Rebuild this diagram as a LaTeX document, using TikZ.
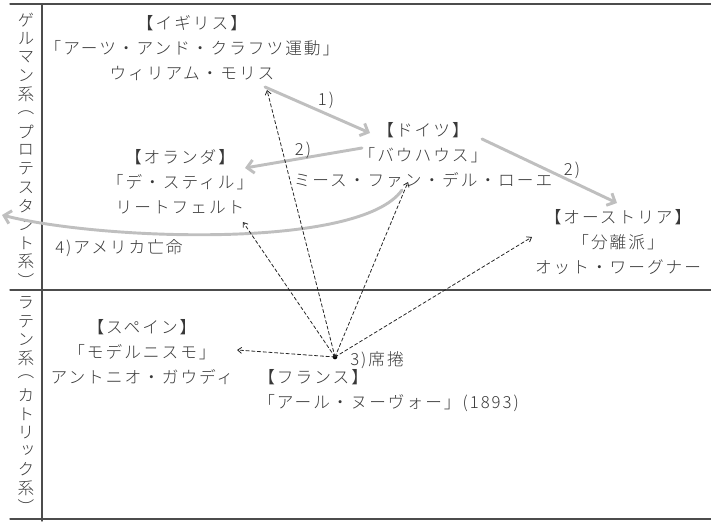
\documentclass[tikz,border=0pt]{standalone}
\usepackage{fontspec}
\IfFontExistsTF{Noto Sans CJK JP Light}
  {\newfontfamily\jp[LetterSpace=12]{Noto Sans CJK JP Light}
   \newfontfamily\jpv[RawFeature=+vert]{Noto Sans CJK JP Light}}
  {\newfontfamily\jp[LetterSpace=12]{Noto Sans CJK JP}
   \newfontfamily\jpv[RawFeature=+vert]{Noto Sans CJK JP}}
\usetikzlibrary{arrows.meta}
\begin{document}
\begin{tikzpicture}[x=0.75pt,y=-0.75pt,line cap=round,line join=round,
  txt/.style={text=black!78,font=\jp\fontsize{12.5}{18.75}\selectfont,inner sep=0pt},
  vtxt/.style={text=black!78,font=\jpv\fontsize{12.5}{14}\selectfont,inner sep=0pt},
  block/.style={txt,align=center},
  move/.style={draw=black!25,line width=2.2pt,-{Straight Barb[length=5pt,width=10pt]}},
  spread/.style={draw=black!85,line width=0.6pt,dash pattern=on 2.5pt off 1.8pt,-{Straight Barb[length=3pt,width=4.5pt]}},
  frame/.style={draw=black!70,line width=1pt}]
  \useasboundingbox (0,0) rectangle (711,522);
  % frame
  \draw[frame] (10,4) -- (711,4);
  \draw[frame] (10,290) -- (711,290);
  \draw[frame] (10,519) -- (711,519);
  \draw[frame] (42,4) -- (42,521);
  % vertical headings
  \foreach \c [count=\i from 0] in {ゲ,ル,マ,ン,系,︵,プ,ロ,テ,ス,タ,ン,ト,系,︶}
    \node[vtxt] (g\i) at (26,{20+18.6*\i}) {\c};
  \foreach \c [count=\i from 0] in {ラ,テ,ン,系,︵,カ,ト,リ,ッ,ク,系,︶}
    \node[vtxt] (r\i) at (26,{303+18.5*\i}) {\c};
  % countries
  \node[block] (uk) at (192,48) {【イギリス】\\「アーツ・アンド・クラフツ運動」\\ウィリアム・モリス};
  \node[block] (de) at (423,155) {【ドイツ】\\「バウハウス」\\ミース・ファン・デル・ローエ};
  \node[block] (nl) at (180,182) {【オランダ】\\「デ・スティル」\\リートフェルト};
  \node[block] (at) at (618,242) {【オーストリア】\\「分離派」\\オット・ワーグナー};
  \node[block] (es) at (142,352) {【スペイン】\\「モデルニスモ」\\アントニオ・ガウディ};
  \node[txt,align=left,anchor=west] (fr) at (258,391) {【フランス】\\「アール・ヌーヴォー」(1893)};
  \node[circle,fill=black,inner sep=0pt,minimum size=3.5pt] (src) at (335,357) {};
  \coordinate (us) at (2,215);
  % influence
  \draw[move] ([shift={(73,39)}]uk.center) -- ([shift={(-53,-22)}]de.center);
  \draw[move] ([shift={(-61,-7)}]de.center) -- ([shift={(65,-14)}]nl.center);
  \draw[move] ([shift={(59,-16)}]de.center) -- ([shift={(-1,-39)}]at.center);
  \draw[move] ([shift={(-21,35)}]de.center) .. controls (360,250) and (100,240) .. (us);
  \node[txt] (l1) at (326,100) {1)};
  \node[txt] (l2a) at (303,150) {2)};
  \node[txt] (l2b) at (572,170) {2)};
  \node[txt,anchor=west] (l4) at (55,248) {4)アメリカ亡命};
  \node[txt,anchor=west] (l3) at (350,360) {3)席捲};
  % spread of art nouveau
  \draw[spread] (src.center) -- ([shift={(75,42)}]uk.center);
  \draw[spread] (src.center) -- ([shift={(63,40)}]nl.center);
  \draw[spread] (src.center) -- ([shift={(-15,27)}]de.center);
  \draw[spread] (src.center) -- ([shift={(-86,-5)}]at.center);
  \draw[spread] (src.center) -- ([shift={(95,-2)}]es.center);
\end{tikzpicture}
\end{document}
